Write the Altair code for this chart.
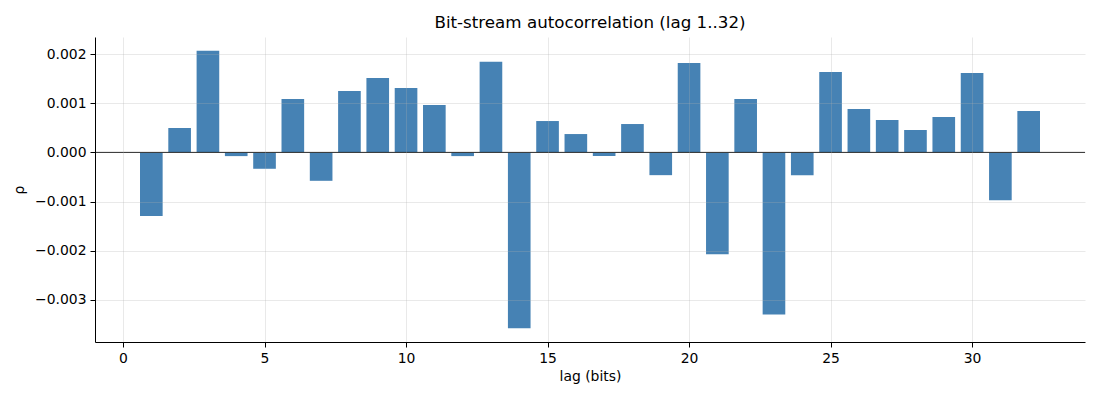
import altair as alt
import pandas as pd

lags = list(range(1, 33))
rho = [-0.001293, 0.000497, 0.002068, -0.000075, -0.000333, 0.001088, -0.000578, 0.001252,
       0.001517, 0.001313, 0.000966, -0.000075, 0.001844, -0.003578, 0.000639, 0.000374,
       -0.000075, 0.000578, -0.000463, 0.001823, -0.002075, 0.001088, -0.003299, -0.000463,
       0.001639, 0.000884, 0.000660, 0.000456, 0.000721, 0.001619, -0.000973, 0.000844]
x_ticks = [0, 5, 10, 15, 20, 25, 30]
y_ticks = [-0.003, -0.002, -0.001, 0.0, 0.001, 0.002]

df = pd.DataFrame({"lag": lags, "rho": rho})

FONT = "DejaVu Sans"
xscale = alt.Scale(domain=[-0.99, 33.99], nice=False, zero=False)
yscale = alt.Scale(domain=[-0.00386, 0.00235], nice=False, zero=False)

bars = alt.Chart(df).transform_calculate(
    x0="datum.lag - 0.4", x1="datum.lag + 0.4"
).mark_rect(color="#4682b4").encode(
    x=alt.X("x0:Q", scale=xscale, title="lag (bits)",
            axis=alt.Axis(values=x_ticks, format="d", grid=True, zindex=1,
                          gridColor="#b0b0b0", gridOpacity=0.35, gridWidth=0.8)),
    x2="x1:Q",
    y=alt.Y("rho:Q", scale=yscale, title="ρ",
            axis=alt.Axis(values=y_ticks, grid=True, zindex=1,
                          gridColor="#b0b0b0", gridOpacity=0.35, gridWidth=0.8,
                          labelExpr="replace(format(datum.value, '.3f'), '-', '\u2212')")),
    y2=alt.datum(0),
)

zero = alt.Chart(pd.DataFrame({"z": [0.0]})).mark_rule(color="black", strokeWidth=1).encode(
    y=alt.Y("z:Q", scale=yscale)
)

chart = alt.layer(bars, zero).properties(
    width=990, height=305,
    title=alt.TitleParams("Bit-stream autocorrelation (lag 1..32)", font=FONT, fontSize=16.7,
                          fontWeight="normal", color="black", offset=5, anchor="middle"),
    autosize=alt.AutoSizeParams(type="none"),
    padding={"left": 87, "top": 29, "right": 5, "bottom": 50},
).configure_view(stroke=None).configure_axis(
    labelFont=FONT, labelFontSize=13.9, labelColor="black",
    titleFont=FONT, titleFontSize=13.9, titleColor="black", titleFontWeight="normal",
    domainColor="black", domainWidth=1, tickColor="black", tickSize=5, tickWidth=1,
    labelPadding=4,
).configure_axisX(titlePadding=5).configure_axisY(titlePadding=8)

chart.save("out.html", embed_options={"renderer": "svg", "actions": False})
